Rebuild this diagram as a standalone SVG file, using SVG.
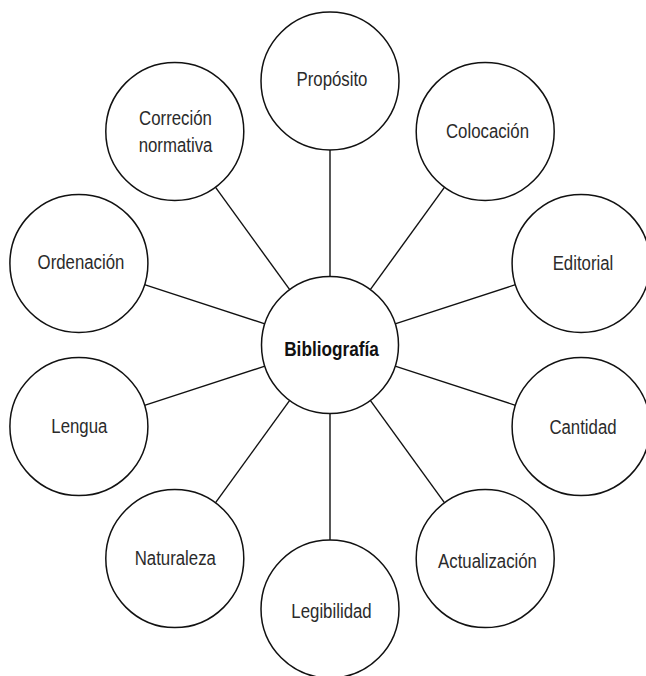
<svg xmlns="http://www.w3.org/2000/svg" width="646" height="676" viewBox="0 0 646 676">
<style>
.n{fill:#fff;stroke:#111;stroke-width:1.5}
.t{font-family:"Liberation Sans",Arial,sans-serif;font-size:21px;fill:#2b2b2b;text-anchor:middle}
.b{font-weight:bold;fill:#111}
.c line{stroke:#111;stroke-width:1.4}
</style>
<rect width="646" height="676" fill="#fff"/>
<g id="connectors" class="c">
<line x1="330" y1="276.5" x2="330" y2="150"/>
<line x1="370.3" y1="289.6" x2="444.6" y2="187.2"/>
<line x1="395.1" y1="323.8" x2="515.5" y2="284.7"/>
<line x1="395.1" y1="366.2" x2="515.5" y2="405.3"/>
<line x1="370.3" y1="400.4" x2="444.6" y2="502.8"/>
<line x1="330" y1="413.5" x2="330" y2="540"/>
<line x1="289.7" y1="400.4" x2="215.4" y2="502.8"/>
<line x1="264.9" y1="366.2" x2="144.5" y2="405.3"/>
<line x1="264.9" y1="323.8" x2="144.5" y2="284.7"/>
<line x1="289.7" y1="289.6" x2="215.4" y2="187.2"/>
</g>
<g id="bibliografia"><circle class="n" cx="330" cy="345" r="68.5"/><text class="t b" transform="translate(331.5,356) scale(0.82,1)">Bibliografía</text></g>
<g id="proposito"><circle class="n" cx="330" cy="81" r="69"/><text class="t" transform="translate(332,85.5) scale(0.8,1)">Propósito</text></g>
<g id="colocacion"><circle class="n" cx="485.2" cy="131.4" r="69"/><text class="t" transform="translate(487.5,137.5) scale(0.8,1)">Colocación</text></g>
<g id="editorial"><circle class="n" cx="581.1" cy="263.4" r="69"/><text class="t" transform="translate(583,270) scale(0.8,1)">Editorial</text></g>
<g id="cantidad"><circle class="n" cx="581.1" cy="426.6" r="69"/><text class="t" transform="translate(583,434) scale(0.8,1)">Cantidad</text></g>
<g id="actualizacion"><circle class="n" cx="485.2" cy="558.6" r="69"/><text class="t" transform="translate(487.5,568.3) scale(0.8,1)">Actualización</text></g>
<g id="legibilidad"><circle class="n" cx="330" cy="609" r="69"/><text class="t" transform="translate(331.5,618.3) scale(0.8,1)">Legibilidad</text></g>
<g id="naturaleza"><circle class="n" cx="174.8" cy="558.6" r="69"/><text class="t" transform="translate(175.3,565) scale(0.8,1)">Naturaleza</text></g>
<g id="lengua"><circle class="n" cx="78.9" cy="426.6" r="69"/><text class="t" transform="translate(79.3,433.3) scale(0.8,1)">Lengua</text></g>
<g id="ordenacion"><circle class="n" cx="78.9" cy="263.4" r="69"/><text class="t" transform="translate(81,268.5) scale(0.8,1)">Ordenación</text></g>
<g id="correcion"><circle class="n" cx="174.8" cy="131.4" r="69"/><text class="t" transform="translate(175.5,124.5) scale(0.8,1)">Correción</text><text class="t" transform="translate(175.5,151.5) scale(0.8,1)">normativa</text></g>
</svg>
